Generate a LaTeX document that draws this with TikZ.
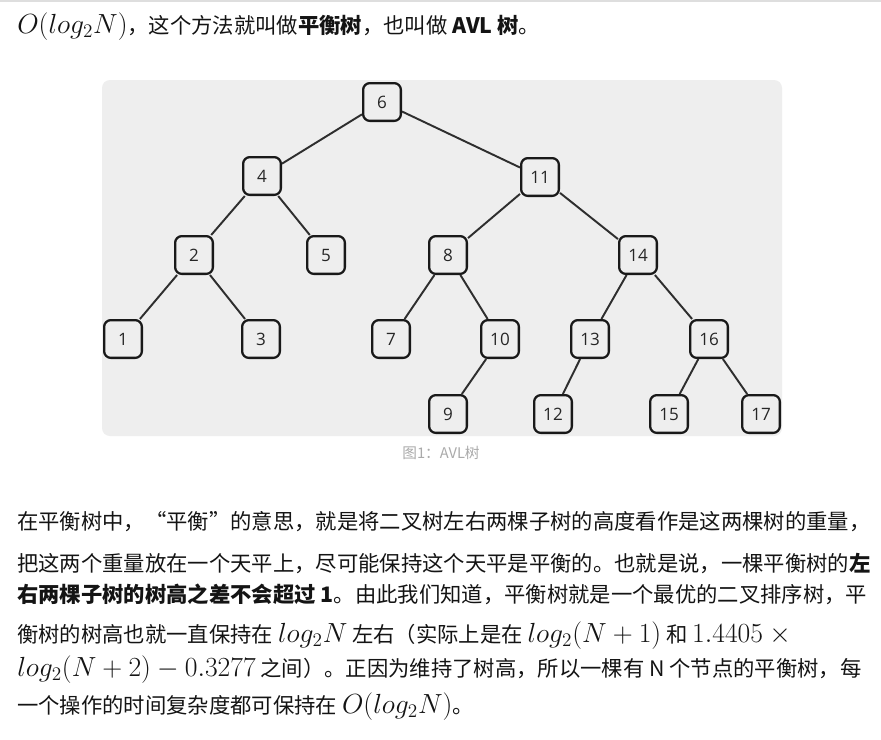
\documentclass[tikz,border=0pt]{standalone}
\usepackage[no-math]{fontspec}
\newfontfamily\cjk{Noto Sans CJK SC}
\newfontfamily\numfont{Open Sans}
\definecolor{panelgray}{RGB}{238,238,238}
\definecolor{captiongray}{RGB}{170,170,170}
\definecolor{toprule}{RGB}{222,222,222}
\newcommand\mm[1]{{\fontsize{20pt}{24pt}\selectfont$#1$}}
\begin{document}
\begin{tikzpicture}[x=0.75pt,y=-0.75pt,
  tn/.style={draw=black!90, line width=1.7pt, rounded corners=5pt, minimum size=28.3pt, inner sep=0pt,
    font=\numfont\fontsize{12.8pt}{14pt}\selectfont, text=black!85},
  treeedge/.style={draw=black!82, line width=1.45pt},
  txt/.style={anchor=base west, inner sep=0pt, font=\cjk\fontsize{16pt}{20pt}\selectfont, text=black!92},
  captxt/.style={inner sep=0pt, font=\cjk\fontsize{11pt}{13pt}\selectfont, text=captiongray}]
\useasboundingbox (0,0) rectangle (881,739);
\fill[white] (0,0) rectangle (881,739);
\fill[toprule] (0,0) rectangle (881,2);
% top line
\node[txt] (l0) at (17,33) {\mm{O(log_2N)}，这个方法就叫做\textbf{平衡树}，也叫做 \textbf{AVL 树}。};
% panel
\fill[panelgray, rounded corners=6pt] (102,80) rectangle (782,436);
% nodes
\node[tn] (n6) at (382,102) {6};
\node[tn] (n4) at (262,176) {4};
\node[tn] (n11) at (540,177) {11};
\node[tn] (n2) at (194,255) {2};
\node[tn] (n5) at (326,255) {5};
\node[tn] (n8) at (448,255) {8};
\node[tn] (n14) at (638,255) {14};
\node[tn] (n1) at (123,339) {1};
\node[tn] (n3) at (261,339) {3};
\node[tn] (n7) at (391,339) {7};
\node[tn] (n10) at (500,339) {10};
\node[tn] (n13) at (590,339) {13};
\node[tn] (n16) at (709,339) {16};
\node[tn] (n9) at (448,414) {9};
\node[tn] (n12) at (553,414) {12};
\node[tn] (n15) at (669,414) {15};
\node[tn] (n17) at (761,414) {17};
% edges
\draw[treeedge] (n6) -- (n4);
\draw[treeedge] (n6) -- (n11);
\draw[treeedge] (n4) -- (n2);
\draw[treeedge] (n4) -- (n5);
\draw[treeedge] (n2) -- (n1);
\draw[treeedge] (n2) -- (n3);
\draw[treeedge] (n11) -- (n8);
\draw[treeedge] (n11) -- (n14);
\draw[treeedge] (n8) -- (n7);
\draw[treeedge] (n8) -- (n10);
\draw[treeedge] (n10) -- (n9);
\draw[treeedge] (n14) -- (n13);
\draw[treeedge] (n14) -- (n16);
\draw[treeedge] (n13) -- (n12);
\draw[treeedge] (n16) -- (n15);
\draw[treeedge] (n16) -- (n17);
% caption
\node[captxt] (caption) at (441,453) {图1：AVL树};
% paragraph
\node[txt] (p1) at (17,529) {在平衡树中，“平衡”的意思，就是将二叉树左右两棵子树的高度看作是这两棵树的重量，};
\node[txt] (p2) at (17,571) {把这两个重量放在一个天平上，尽可能保持这个天平是平衡的。也就是说，一棵平衡树的\textbf{左}};
\node[txt] (p3) at (17,602) {\textbf{右两棵子树的树高之差不会超过 1}。由此我们知道，平衡树就是一个最优的二叉排序树，平};
\node[txt] (p4) at (17,642) {衡树的树高也就一直保持在 \mm{log_2N} 左右（实际上是在 \mm{log_2(N+1)} 和 \mm{1.4405\times{}}};
\node[txt] (p5) at (17,676) {\mm{log_2(N+2)-0.3277} 之间）。正因为维持了树高，所以一棵有 N 个节点的平衡树，每};
\node[txt] (p6) at (17,713) {一个操作的时间复杂度都可保持在 \mm{O(log_2N)}。};
\end{tikzpicture}
\end{document}
